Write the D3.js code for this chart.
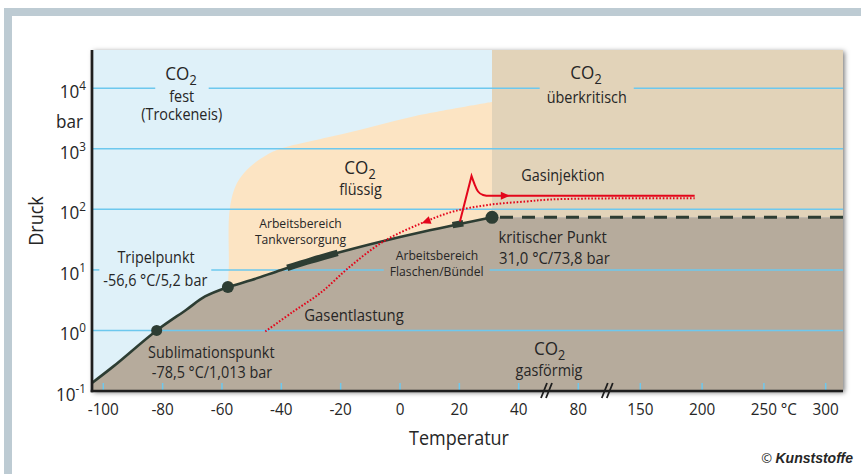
<!DOCTYPE html>
<html>
<head>
<meta charset="utf-8">
<script src="https://cdn.jsdelivr.net/npm/d3@7"></script>
<style>
  body { margin: 0; background: #fff; }
  svg { display: block; }
  text { font-family: "Open Sans", "Noto Sans", sans-serif; fill: #262626; }
</style>
</head>
<body>
<svg id="chart" width="861" height="474"></svg>
<script>
// ---- data ----
const xTicks = [-100, -80, -60, -40, -20, 0, 20, 40, 80, 150, 200, 250, 300];
const yExponents = [-1, 0, 1, 2, 3, 4];

// sublimation curve (solid / gas)
const sublimationT = [-103.8, -96.6, -82, -72, -65.7, -58];
const sublimationP = [0.136, 0.255, 1.0, 2.2, 3.64, 5.2];
// vapour pressure curve (liquid / gas)
const vaporT = [-58, -50, -40, -30, -20, -10, 0, 10, 20, 31];
const vaporP = [5.2, 6.8, 10, 14.3, 19.7, 26.5, 34.9, 45, 57.3, 73.8];
// melting curve (solid / liquid)
const meltingT = [-58, -57.7, -57.4, -54.9, -50.4, -44.8, -40.3, -17.9, 4.5, 31];
const meltingP = [5.2, 11.4, 98, 274, 509, 796, 1000, 1820, 3420, 5920];

// marked points: Sublimationspunkt, Tripelpunkt, kritischer Punkt
const pointT = [-82, -58, 31];
const pointP = [1.0, 5.2, 73.8];

// working ranges
const tankT = [-38, -30, -21];
const tankP = [10.8, 14.3, 19.1];
const bottleT = [17.7, 21.3];
const bottleP = [55, 59];

// Gasinjektion (rise, then decay to the flat line)
const injectRiseT = [20.2, 24.1];
const injectRiseP = [63, 357];
const injectDecayT = [24.1, 25.2, 26.3, 28.0, 30.2, 194];
const injectDecayP = [357, 254, 197, 173, 167, 167];

// Gasentlastung (dotted)
const reliefT = [-45.4, -35.9, -26.9, -16.8, -5.6, 7.3, 17.9, 30, 45, 60, 82, 120, 194];
const reliefP = [0.96, 2.06, 4.14, 11.4, 29.4, 59.2, 92, 119, 135, 145, 150, 152, 153];

// ---- layout / style ----
const W = 861, H = 474;
const plot = { left: 92, right: 843, top: 50, bottom: 391 };
const C = {
  solid: "#dff1f9", liquid: "#fce4c3", superc: "#e2d3b9", gas: "#b6ab9c",
  grid: "#6dc8ee", line: "#2d3d33", red: "#e3061b", frame: "#bdcbd3", axis: "#1e1e1e"
};
const pointR = [5.5, 6, 6.5];
const SX = 0.9; // condensed look

const svg = d3.select("#chart");

// broken temperature axis: -100..40 linear, 40 // 80 // 150..300
const x = d3.scaleLinear()
  .domain([-103.8, 40, 80, 150, 314])
  .range([plot.left, 518.7, 578.3, 640.3, plot.right]);
const y = d3.scaleLog()
  .domain([0.1, 42850])
  .range([plot.bottom, plot.top]);

const pts = (T, P) => T.map((t, i) => [x(t), y(P[i])]);
const curve = d3.line().curve(d3.curveCatmullRom.alpha(0.5));
const straight = d3.line();
const smoothX = d3.line().curve(d3.curveMonotoneX);

// defs
const defs = svg.append("defs");
const filt = defs.append("filter").attr("id", "shadow")
  .attr("x", "-5%").attr("y", "-8%").attr("width", "110%").attr("height", "116%");
filt.append("feDropShadow").attr("dx", 1.5).attr("dy", 1.5)
  .attr("stdDeviation", 2.5).attr("flood-color", "#000").attr("flood-opacity", 0.55);
defs.append("clipPath").attr("id", "plotClip").append("rect")
  .attr("x", plot.left).attr("y", plot.top)
  .attr("width", plot.right - plot.left).attr("height", plot.bottom - plot.top);

// outer frame
svg.append("rect").attr("x", 4).attr("y", 8).attr("width", W - 4).attr("height", 8).attr("fill", C.frame);
svg.append("rect").attr("x", 4).attr("y", 8).attr("width", 8).attr("height", H - 8).attr("fill", C.frame);

// plot background (solid CO2) with shadow
svg.append("rect")
  .attr("x", plot.left).attr("y", plot.top)
  .attr("width", plot.right - plot.left).attr("height", plot.bottom - plot.top)
  .attr("fill", C.solid).attr("filter", "url(#shadow)");

const areas = svg.append("g").attr("clip-path", "url(#plotClip)");

// liquid: melting curve, then down to the bottom (gas covers the lower part)
const meltPts = pts(meltingT, meltingP);
areas.append("path")
  .attr("d", curve(meltPts) + "L" + [x(31), y(0.1)] + "L" + [x(-58), y(0.1)] + "Z")
  .attr("fill", C.liquid);

// supercritical
areas.append("rect")
  .attr("x", x(31)).attr("y", plot.top)
  .attr("width", plot.right - x(31)).attr("height", y(73.8) - plot.top)
  .attr("fill", C.superc);

// gas
const phaseT = sublimationT.concat(vaporT.slice(1));
const phaseP = sublimationP.concat(vaporP.slice(1));
const phasePts = pts(phaseT, phaseP);
areas.append("path")
  .attr("d", curve(phasePts) + "L" + [plot.right, y(73.8)] + "L" + [plot.right, plot.bottom + 2]
    + "L" + [plot.left, plot.bottom + 2] + "Z")
  .attr("fill", C.gas);

// containers (grid under labels)
const gridG = svg.append("g");
const tickG = svg.append("g");
const markG = svg.append("g");
const labelsG = svg.append("g");

// bottom inner ticks
tickG.selectAll("line").data(xTicks).join("line")
  .attr("x1", d => x(d)).attr("x2", d => x(d))
  .attr("y1", plot.bottom - 8).attr("y2", plot.bottom)
  .attr("stroke", C.grid).attr("stroke-width", 1.5);

// phase line
markG.append("path").attr("d", curve(phasePts))
  .attr("fill", "none").attr("stroke", C.line).attr("stroke-width", 2.6);

// working ranges (thick)
markG.append("path").attr("d", curve(pts(tankT, tankP)))
  .attr("fill", "none").attr("stroke", C.line).attr("stroke-width", 6.5);
markG.append("path").attr("d", straight(pts(bottleT, bottleP)))
  .attr("fill", "none").attr("stroke", C.line).attr("stroke-width", 6.5);

// critical isobar (dashed)
markG.append("line")
  .attr("x1", x(31) + 8).attr("x2", plot.right)
  .attr("y1", y(73.8)).attr("y2", y(73.8))
  .attr("stroke", C.line).attr("stroke-width", 3).attr("stroke-dasharray", "13,9");

// Gasentlastung (dotted)
const reliefPts = pts(reliefT, reliefP);
markG.append("path").attr("d", curve(reliefPts))
  .attr("fill", "none").attr("stroke", C.red).attr("stroke-width", 2)
  .attr("stroke-dasharray", "1.6,1.8");

// Gasinjektion
const injPath = straight(pts(injectRiseT, injectRiseP)) +
  smoothX(pts(injectDecayT, injectDecayP)).replace(/^M/, "L");
markG.append("path").attr("d", injPath)
  .attr("fill", "none").attr("stroke", C.red).attr("stroke-width", 2)
  .attr("stroke-linejoin", "miter");

function arrow(tip, from, len, half) {
  const dx = tip[0] - from[0], dy = tip[1] - from[1];
  const a = Math.atan2(dy, dx) * 180 / Math.PI;
  markG.append("path")
    .attr("d", `M0,0L${-len},${-half}L${-len},${half}Z`)
    .attr("transform", `translate(${tip[0]},${tip[1]}) rotate(${a})`)
    .attr("fill", C.red);
}
arrow(reliefPts[5], reliefPts[6], 9, 4);
arrow([x(37), y(167)], [x(30), y(167)], 9, 4);

// points
markG.selectAll("circle").data(pointT).join("circle")
  .attr("cx", d => x(d)).attr("cy", (d, i) => y(pointP[i]))
  .attr("r", (d, i) => pointR[i]).attr("fill", C.line);

// ---- labels ----
function label(d) {
  const t = labelsG.append("text")
    .attr("transform", `translate(${d.x},${d.y}) scale(${SX},1)`)
    .attr("text-anchor", d.anchor || "middle")
    .style("font-size", d.size + "px");
  if (d.gap != null) t.classed("gap", true).attr("data-pad", d.gap);
  if (d.sub) {
    t.append("tspan").text(d.text);
    t.append("tspan").attr("dy", 5).style("font-size", (d.size * 0.74) + "px").text(d.sub);
  } else {
    t.text(d.text);
  }
  return t;
}

const labels = [
  { text: "CO", sub: "2", x: 181, y: 80, size: 19 },
  { text: "fest", x: 181.7, y: 101.7, size: 16, gap: 14 },
  { text: "(Trockeneis)", x: 181.7, y: 119.5, size: 16 },
  { text: "CO", sub: "2", x: 586, y: 79, size: 19 },
  { text: "überkritisch", x: 586.7, y: 102.5, size: 16, gap: 7 },
  { text: "CO", sub: "2", x: 360, y: 174, size: 19 },
  { text: "flüssig", x: 360.5, y: 195, size: 16 },
  { text: "Gasinjektion", x: 563, y: 180.7, size: 16 },
  { text: "Arbeitsbereich", x: 300.5, y: 228.3, size: 13.5 },
  { text: "Tankversorgung", x: 300.5, y: 244.3, size: 13.5 },
  { text: "Arbeitsbereich", x: 437, y: 260, size: 13.5, gap: 6 },
  { text: "Flaschen/Bündel", x: 436.7, y: 276, size: 13.5, gap: 6 },
  { text: "Gasentlastung", x: 354, y: 320.7, size: 16.5 },
  { text: "kritischer Punkt", x: 498.5, y: 242.7, size: 16.5, anchor: "start" },
  { text: "31,0 °C/73,8 bar", x: 499, y: 264.3, size: 16.5, anchor: "start" },
  { text: "Tripelpunkt", x: 156, y: 263.3, size: 16, gap: 4 },
  { text: "-56,6 °C/5,2 bar", x: 155.3, y: 286, size: 16, gap: 4 },
  { text: "Sublimationspunkt", x: 211.3, y: 358.3, size: 16 },
  { text: "-78,5 °C/1,013 bar", x: 212, y: 378.3, size: 16 },
  { text: "CO", sub: "2", x: 549.7, y: 355, size: 19 },
  { text: "gasförmig", x: 549, y: 376, size: 16 }
];
labels.forEach(label);

// grid lines with gaps around labels sitting on them
const gappers = labelsG.selectAll("text.gap").nodes().map(n => {
  const r = n.getBoundingClientRect();
  const pad = +n.getAttribute("data-pad");
  return { x0: r.left - pad, x1: r.right + pad, y0: r.top - 3, y1: r.bottom + 3 };
});
yExponents.filter(e => e > -1).forEach(e => {
  const yy = y(Math.pow(10, e));
  let segs = [[plot.left, plot.right]];
  gappers.filter(g => yy >= g.y0 && yy <= g.y1).forEach(g => {
    segs = segs.flatMap(([a, b]) => {
      if (g.x1 <= a || g.x0 >= b) return [[a, b]];
      const out = [];
      if (g.x0 > a) out.push([a, g.x0]);
      if (g.x1 < b) out.push([g.x1, b]);
      return out;
    });
  });
  segs.forEach(([a, b]) => {
    gridG.append("line")
      .attr("x1", a).attr("x2", b).attr("y1", yy).attr("y2", yy)
      .attr("stroke", C.grid).attr("stroke-width", 1.5);
  });
});

// axes
const axisG = svg.append("g");
axisG.append("line")
  .attr("x1", plot.left).attr("x2", plot.left)
  .attr("y1", plot.top).attr("y2", plot.bottom + 1.3)
  .attr("stroke", C.axis).attr("stroke-width", 2.7);
axisG.append("line")
  .attr("x1", plot.left - 1.3).attr("x2", plot.right)
  .attr("y1", plot.bottom).attr("y2", plot.bottom)
  .attr("stroke", C.axis).attr("stroke-width", 2.7);

// axis breaks
const breaks = [(x(40) + x(80)) / 2 - 2, (x(80) + x(150)) / 2 - 2];
breaks.forEach(cx => {
  [-2.5, 2.5].forEach(off => {
    axisG.append("line")
      .attr("x1", cx + off - 3).attr("y1", plot.bottom + 7)
      .attr("x2", cx + off + 3).attr("y2", plot.bottom - 8)
      .attr("stroke", C.axis).attr("stroke-width", 1.8);
  });
});

// x tick labels
axisG.selectAll("text.xt").data(xTicks).join("text")
  .attr("class", "xt")
  .attr("transform", d => `translate(${x(d)},415) scale(${SX},1)`)
  .attr("text-anchor", "middle")
  .style("font-size", "17px")
  .text(d => d);
axisG.append("text")
  .attr("transform", `translate(${(x(250) + x(300)) / 2 - 6},415) scale(${SX},1)`)
  .attr("text-anchor", "middle").style("font-size", "17px").text("°C");

// y tick labels (10^n)
yExponents.forEach(e => {
  const t = axisG.append("text")
    .attr("transform", `translate(86,${y(Math.pow(10, e)) + 10}) scale(${SX},1)`)
    .attr("text-anchor", "end")
    .style("font-size", "19px");
  t.append("tspan").text("10");
  t.append("tspan").attr("dy", -8).style("font-size", "13px").text(e);
});
axisG.append("text")
  .attr("transform", `translate(83,128) scale(${SX},1)`)
  .attr("text-anchor", "end").style("font-size", "19px").text("bar");

// axis titles
axisG.append("text")
  .attr("transform", `translate(459,445) scale(${SX},1)`)
  .attr("text-anchor", "middle").style("font-size", "20px").text("Temperatur");
axisG.append("text")
  .attr("transform", `translate(43,221) rotate(-90) scale(${SX},1)`)
  .attr("text-anchor", "middle").style("font-size", "20px").text("Druck");

// source
const src = axisG.append("text")
  .attr("transform", "translate(853,463.3)")
  .attr("text-anchor", "end").style("font-size", "13px");
src.append("tspan").text("© ");
src.append("tspan")
  .style("font-family", "'Liberation Sans Narrow', 'Liberation Sans', sans-serif")
  .style("font-weight", "bold").style("font-style", "italic").style("font-size", "14px")
  .text("Kunststoffe");
</script>
</body>
</html>
